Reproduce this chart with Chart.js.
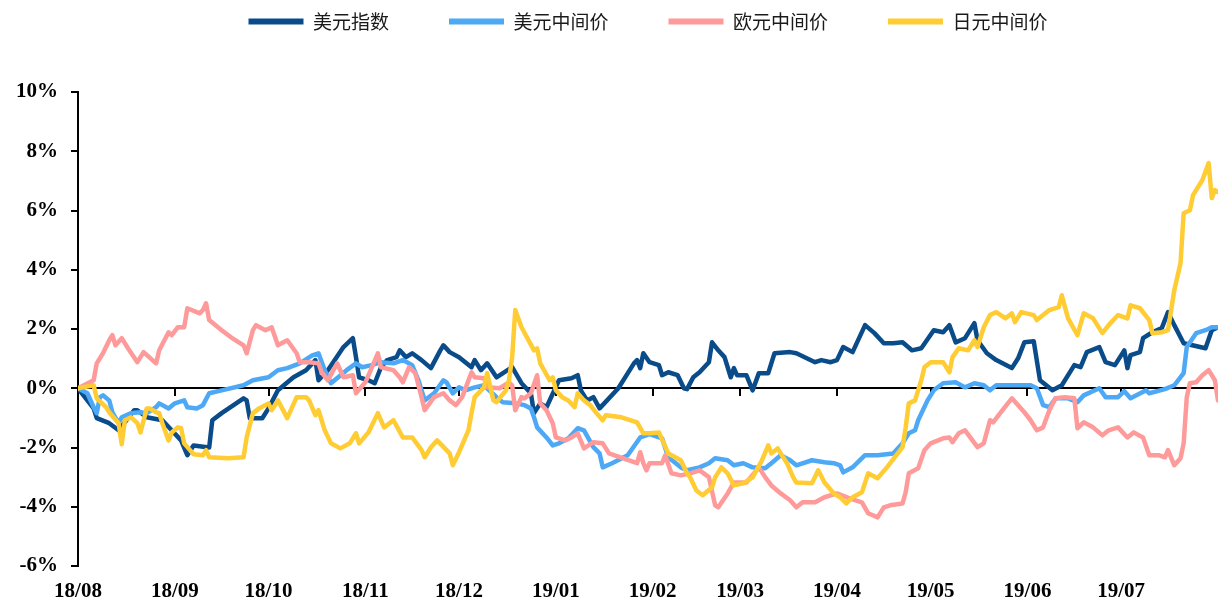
<!DOCTYPE html>
<html>
<head>
<meta charset="utf-8">
<script src="https://cdn.jsdelivr.net/npm/chart.js@4/dist/chart.umd.min.js"></script>
<style>
  html, body { margin: 0; padding: 0; background: #fff; }
</style>
</head>
<body>
<canvas id="fxChart" width="1218" height="603"></canvas>
<script>
// x = days since 2018-08-01, y = % change since then
var seriesNames = ['美元指数', '美元中间价', '欧元中间价', '日元中间价'];
var monthTicks = [0, 31, 61, 92, 122, 153, 184, 212, 243, 273, 304, 334];
var monthLabels = ['18/08', '18/09', '18/10', '18/11', '18/12', '19/01', '19/02', '19/03', '19/04', '19/05', '19/06', '19/07'];

var usdIndex = [[0,0],[5,-0.68],[6,-1.01],[10,-1.18],[13,-1.42],[18,-0.74],[19,-0.74],[22,-0.98],[27,-1.08],[30,-1.42],[33,-1.76],[35,-2.26],[37,-1.93],[42,-2.0],[43,-1.08],[46,-0.84],[53,-0.34],[54,-0.41],[55,-1.01],[59,-1.01],[61,-0.68],[64,-0.07],[69,0.37],[73,0.61],[76,0.95],[77,0.27],[80,0.61],[85,1.39],[88,1.69],[89,1.05],[90,0.37],[93,0.27],[95,0.17],[97,0.71],[99,0.95],[102,1.05],[103,1.28],[105,1.05],[107,1.18],[110,0.95],[113,0.68],[116,1.28],[117,1.45],[119,1.22],[122,1.05],[126,0.71],[127,0.95],[129,0.61],[131,0.84],[134,0.37],[139,0.71],[142,0.17],[145,-0.17],[146,-0.84],[148,-0.51],[150,-0.64],[154,0.27],[158,0.34],[160,0.44],[161,-0.07],[163,-0.41],[165,-0.30],[167,-0.68],[173,0],[178,0.84],[179,0.95],[180,0.68],[181,1.18],[183,0.88],[186,0.78],[187,0.44],[189,0.54],[192,0.44],[194,0],[195,-0.03],[197,0.37],[199,0.54],[202,0.88],[203,1.55],[205,1.28],[207,1.05],[209,0.37],[210,0.68],[211,0.44],[214,0.44],[216,-0.07],[218,0.51],[221,0.51],[223,1.18],[228,1.22],[230,1.18],[236,0.88],[238,0.95],[241,0.88],[243,0.95],[245,1.39],[248,1.22],[252,2.13],[255,1.86],[258,1.52],[261,1.52],[264,1.55],[267,1.28],[270,1.35],[274,1.96],[277,1.89],[279,2.13],[281,1.55],[284,1.69],[287,2.2],[288,1.62],[291,1.18],[294,0.95],[299,0.68],[301,1.01],[303,1.55],[306,1.59],[308,0.27],[312,-0.07],[315,0.1],[319,0.78],[321,0.71],[323,1.22],[327,1.39],[329,0.88],[332,0.78],[335,1.28],[336,0.68],[337,1.12],[340,1.22],[341,1.69],[344,1.89],[347,2.03],[349,2.57],[351,2.13],[354,1.52],[361,1.35],[363,1.96],[365,2.06]];

var usdCny = [[0,0],[3,-0.17],[5,-0.64],[6,-0.84],[7,-0.30],[8,-0.24],[10,-0.41],[11,-0.81],[13,-1.18],[14,-0.98],[17,-0.84],[20,-0.81],[22,-0.84],[25,-0.64],[26,-0.51],[29,-0.68],[31,-0.51],[34,-0.41],[35,-0.64],[38,-0.68],[40,-0.57],[42,-0.17],[46,-0.07],[53,0.10],[56,0.27],[61,0.37],[64,0.61],[67,0.68],[71,0.84],[75,1.11],[77,1.18],[79,0.61],[81,0.17],[86,0.61],[89,0.84],[91,0.71],[94,0.78],[97,0.88],[101,0.84],[104,0.95],[107,0.78],[109,0.27],[111,-0.41],[114,-0.17],[117,0.27],[118,0.2],[120,-0.17],[122,0.03],[124,-0.07],[127,0.03],[130,0.10],[134,-0.30],[136,-0.47],[140,-0.51],[143,-0.57],[145,-0.68],[146,-0.98],[147,-1.32],[150,-1.66],[152,-1.93],[154,-1.86],[157,-1.69],[160,-1.35],[162,-1.42],[165,-1.99],[167,-2.2],[168,-2.67],[171,-2.53],[176,-2.26],[180,-1.66],[183,-1.55],[187,-1.69],[189,-2.33],[193,-2.67],[195,-2.77],[199,-2.67],[202,-2.53],[204,-2.36],[208,-2.43],[210,-2.6],[213,-2.53],[216,-2.67],[220,-2.7],[222,-2.53],[225,-2.26],[228,-2.43],[230,-2.6],[235,-2.43],[239,-2.5],[242,-2.53],[244,-2.6],[245,-2.84],[248,-2.67],[252,-2.26],[256,-2.26],[261,-2.2],[264,-1.86],[266,-1.52],[268,-1.42],[269,-1.08],[272,-0.41],[274,-0.07],[277,0.17],[281,0.2],[284,0.03],[287,0.17],[290,0.10],[292,-0.07],[294,0.10],[299,0.10],[305,0.10],[307,0],[309,-0.57],[311,-0.64],[313,-0.34],[317,-0.34],[320,-0.47],[322,-0.24],[327,0],[329,-0.30],[333,-0.30],[335,-0.10],[337,-0.34],[342,-0.07],[343,-0.17],[348,-0.03],[351,0.10],[354,0.51],[355,1.39],[358,1.86],[361,1.96],[363,2.06],[365,2.06]];

var eurCny = [[0,0],[5,0.27],[6,0.84],[8,1.18],[10,1.62],[11,1.79],[12,1.45],[14,1.69],[16,1.35],[19,0.88],[21,1.22],[25,0.84],[26,1.28],[29,1.89],[30,1.79],[32,2.06],[34,2.06],[35,2.70],[39,2.53],[40,2.64],[41,2.87],[42,2.30],[46,1.96],[49,1.72],[53,1.45],[54,1.18],[56,1.96],[57,2.13],[60,1.96],[62,2.06],[64,1.45],[67,1.62],[70,1.18],[71,0.88],[74,0.88],[77,0.84],[78,0.54],[80,0.27],[83,0.84],[85,0.37],[88,0.44],[89,-0.17],[92,0.2],[94,0.68],[96,1.18],[97,0.71],[101,0.61],[103,0.37],[104,0.2],[106,0.71],[108,0.51],[110,-0.30],[111,-0.74],[114,-0.30],[117,-0.17],[119,-0.41],[121,-0.57],[123,-0.30],[126,0.54],[127,0.37],[130,0.34],[131,0.03],[135,0],[138,0.2],[139,0.1],[140,-0.74],[142,-0.30],[143,-0.34],[145,-0.17],[147,0.44],[148,-0.51],[150,-0.74],[152,-1.18],[153,-1.66],[156,-1.76],[158,-1.66],[160,-1.52],[162,-2.03],[165,-1.82],[168,-1.86],[170,-2.2],[179,-2.53],[180,-2.16],[181,-2.53],[182,-2.77],[183,-2.53],[187,-2.53],[188,-2.26],[190,-2.87],[193,-2.94],[196,-2.87],[199,-2.77],[202,-3.0],[204,-3.95],[205,-4.02],[208,-3.55],[210,-3.18],[214,-3.18],[218,-2.67],[220,-3.0],[222,-3.28],[225,-3.55],[228,-3.78],[230,-4.02],[232,-3.85],[236,-3.85],[239,-3.68],[243,-3.55],[247,-3.72],[251,-3.85],[253,-4.22],[256,-4.36],[258,-4.02],[260,-3.95],[264,-3.89],[265,-3.51],[266,-2.87],[269,-2.70],[271,-2.09],[273,-1.86],[277,-1.69],[279,-1.66],[280,-1.82],[282,-1.52],[284,-1.42],[288,-1.99],[290,-1.86],[292,-1.08],[293,-1.15],[296,-0.74],[299,-0.34],[303,-0.81],[305,-1.08],[307,-1.42],[309,-1.32],[311,-0.74],[313,-0.34],[316,-0.30],[319,-0.34],[320,-1.35],[322,-1.15],[325,-1.32],[328,-1.59],[330,-1.42],[333,-1.32],[336,-1.66],[338,-1.49],[341,-1.66],[343,-2.26],[346,-2.26],[348,-2.33],[349,-2.09],[351,-2.60],[353,-2.36],[354,-1.86],[355,-0.30],[356,0.17],[358,0.2],[360,0.44],[362,0.61],[364,0.27],[365,-0.41]];

var jpyCny = [[0,0],[5,0.1],[6,-0.34],[9,-0.64],[10,-0.81],[13,-1.18],[14,-1.89],[15,-1.08],[17,-0.98],[19,-1.18],[20,-1.49],[22,-0.68],[23,-0.68],[25,-0.81],[26,-0.84],[27,-1.18],[29,-1.76],[30,-1.49],[32,-1.32],[33,-1.35],[34,-1.86],[37,-2.23],[40,-2.26],[41,-2.09],[42,-2.33],[48,-2.36],[53,-2.33],[54,-1.66],[56,-0.84],[58,-0.68],[61,-0.51],[62,-0.74],[64,-0.41],[67,-1.01],[70,-0.30],[73,-0.30],[74,-0.41],[76,-0.91],[77,-0.74],[79,-1.42],[81,-1.86],[84,-2.03],[87,-1.86],[89,-1.52],[90,-1.86],[93,-1.49],[96,-0.84],[98,-1.32],[101,-1.08],[104,-1.66],[107,-1.66],[110,-2.09],[111,-2.33],[113,-1.99],[115,-1.76],[119,-2.2],[120,-2.6],[122,-2.16],[125,-1.42],[126,-0.84],[127,-0.30],[130,0.03],[131,0.51],[133,-0.41],[134,-0.47],[137,-0.07],[138,0.27],[139,1.05],[140,2.64],[142,2.06],[146,1.28],[147,1.35],[148,0.84],[151,0.27],[152,0.37],[153,-0.07],[155,-0.30],[157,-0.41],[159,-0.64],[160,-0.17],[162,-0.41],[164,-0.57],[166,-0.84],[168,-1.08],[169,-0.91],[174,-0.98],[179,-1.15],[181,-1.52],[183,-1.52],[186,-1.49],[189,-2.2],[193,-2.43],[195,-2.87],[196,-3.01],[198,-3.45],[200,-3.61],[203,-3.34],[204,-3.01],[206,-2.67],[208,-2.87],[210,-3.28],[213,-3.21],[216,-3.01],[219,-2.43],[221,-1.93],[222,-2.2],[224,-2.03],[227,-2.53],[229,-3.01],[230,-3.18],[235,-3.21],[237,-2.77],[239,-3.18],[242,-3.55],[244,-3.68],[246,-3.89],[248,-3.68],[251,-3.51],[253,-2.87],[256,-3.04],[259,-2.67],[264,-1.99],[265,-1.32],[266,-0.51],[268,-0.41],[270,0.27],[271,0.71],[273,0.88],[277,0.88],[279,0.54],[280,1.05],[282,1.35],[285,1.28],[287,1.62],[288,1.39],[290,2.06],[292,2.47],[294,2.57],[297,2.36],[299,2.53],[300,2.23],[302,2.57],[306,2.47],[307,2.30],[311,2.64],[314,2.74],[315,3.14],[316,2.74],[317,2.36],[320,1.79],[322,2.53],[325,2.36],[328,1.86],[330,2.13],[333,2.47],[336,2.36],[337,2.80],[340,2.70],[343,2.30],[344,1.86],[347,1.89],[349,1.96],[351,3.31],[353,4.22],[354,5.91],[356,6.01],[357,6.52],[360,7.03],[362,7.60],[363,6.42],[364,6.69],[365,6.62]];

var axisFont = { family: "'Liberation Serif', 'Times New Roman', serif", size: 21, weight: 'bold' };

function setMonthTicks(scale) {
  scale.ticks = monthTicks.map(function (v) { return { value: v }; });
}

// push the plot down below the legend
var legendGap = {
  id: 'legendGap',
  beforeInit: function (chart) {
    var fit = chart.legend.fit;
    chart.legend.fit = function () {
      fit.call(this);
      this.height += 51;
    };
  }
};

function makeLine(label, points, color, order) {
  return {
    label: label,
    data: points,
    borderColor: color,
    backgroundColor: color,
    borderWidth: 4.5,
    pointRadius: 0,
    tension: 0,
    borderJoinStyle: 'round',
    borderCapStyle: 'round',
    order: order
  };
}

var fxChart = new Chart(document.getElementById('fxChart'), {
  type: 'line',
  data: {
    datasets: [
      makeLine(seriesNames[0], usdIndex, '#0A4C8A', 3),
      makeLine(seriesNames[1], usdCny, '#4DA9F5', 2),
      makeLine(seriesNames[2], eurCny, '#FF9A9A', 1),
      makeLine(seriesNames[3], jpyCny, '#FFCC33', 0)
    ]
  },
  plugins: [legendGap],
  options: {
    responsive: false,
    animation: false,
    layout: { padding: { top: -48, left: 0, right: 0, bottom: 0 } },
    scales: {
      x: {
        type: 'linear',
        min: 0,
        max: 365,
        afterBuildTicks: setMonthTicks,
        afterFit: function (scale) { scale.height = 37; },
        grid: { display: false },
        border: { display: false },
        ticks: {
          autoSkip: false,
          maxRotation: 0,
          padding: 5,
          color: '#000',
          font: axisFont,
          callback: function (value, index) { return monthLabels[index]; }
        }
      },
      // zero line with the month tick marks
      xZero: {
        type: 'linear',
        position: { y: 0 },
        min: 0,
        max: 365,
        afterBuildTicks: setMonthTicks,
        grid: { drawOnChartArea: false, color: '#000', lineWidth: 2, tickLength: 7 },
        border: { color: '#000', width: 2 },
        ticks: { display: false }
      },
      y: {
        min: -6,
        max: 10,
        afterFit: function (scale) { scale.width = 78; },
        grid: { drawOnChartArea: false, color: '#000', lineWidth: 2, tickLength: 7 },
        border: { color: '#000', width: 2 },
        ticks: {
          stepSize: 2,
          padding: 13,
          color: '#000',
          font: axisFont,
          callback: function (value) { return value + '%'; }
        }
      }
    },
    plugins: {
      tooltip: { enabled: false },
      legend: {
        position: 'top',
        fullSize: false,
        labels: {
          usePointStyle: true,
          pointStyle: 'line',
          pointStyleWidth: 55,
          padding: 60,
          color: '#1a1a1a',
          font: { family: "'Noto Sans CJK SC', sans-serif", size: 19 },
          generateLabels: function (chart) {
            return Chart.defaults.plugins.legend.labels.generateLabels(chart)
              .map(function (item) { item.lineWidth = 6; return item; })
              .sort(function (a, b) { return a.datasetIndex - b.datasetIndex; });
          }
        }
      }
    }
  }
});
</script>
</body>
</html>
